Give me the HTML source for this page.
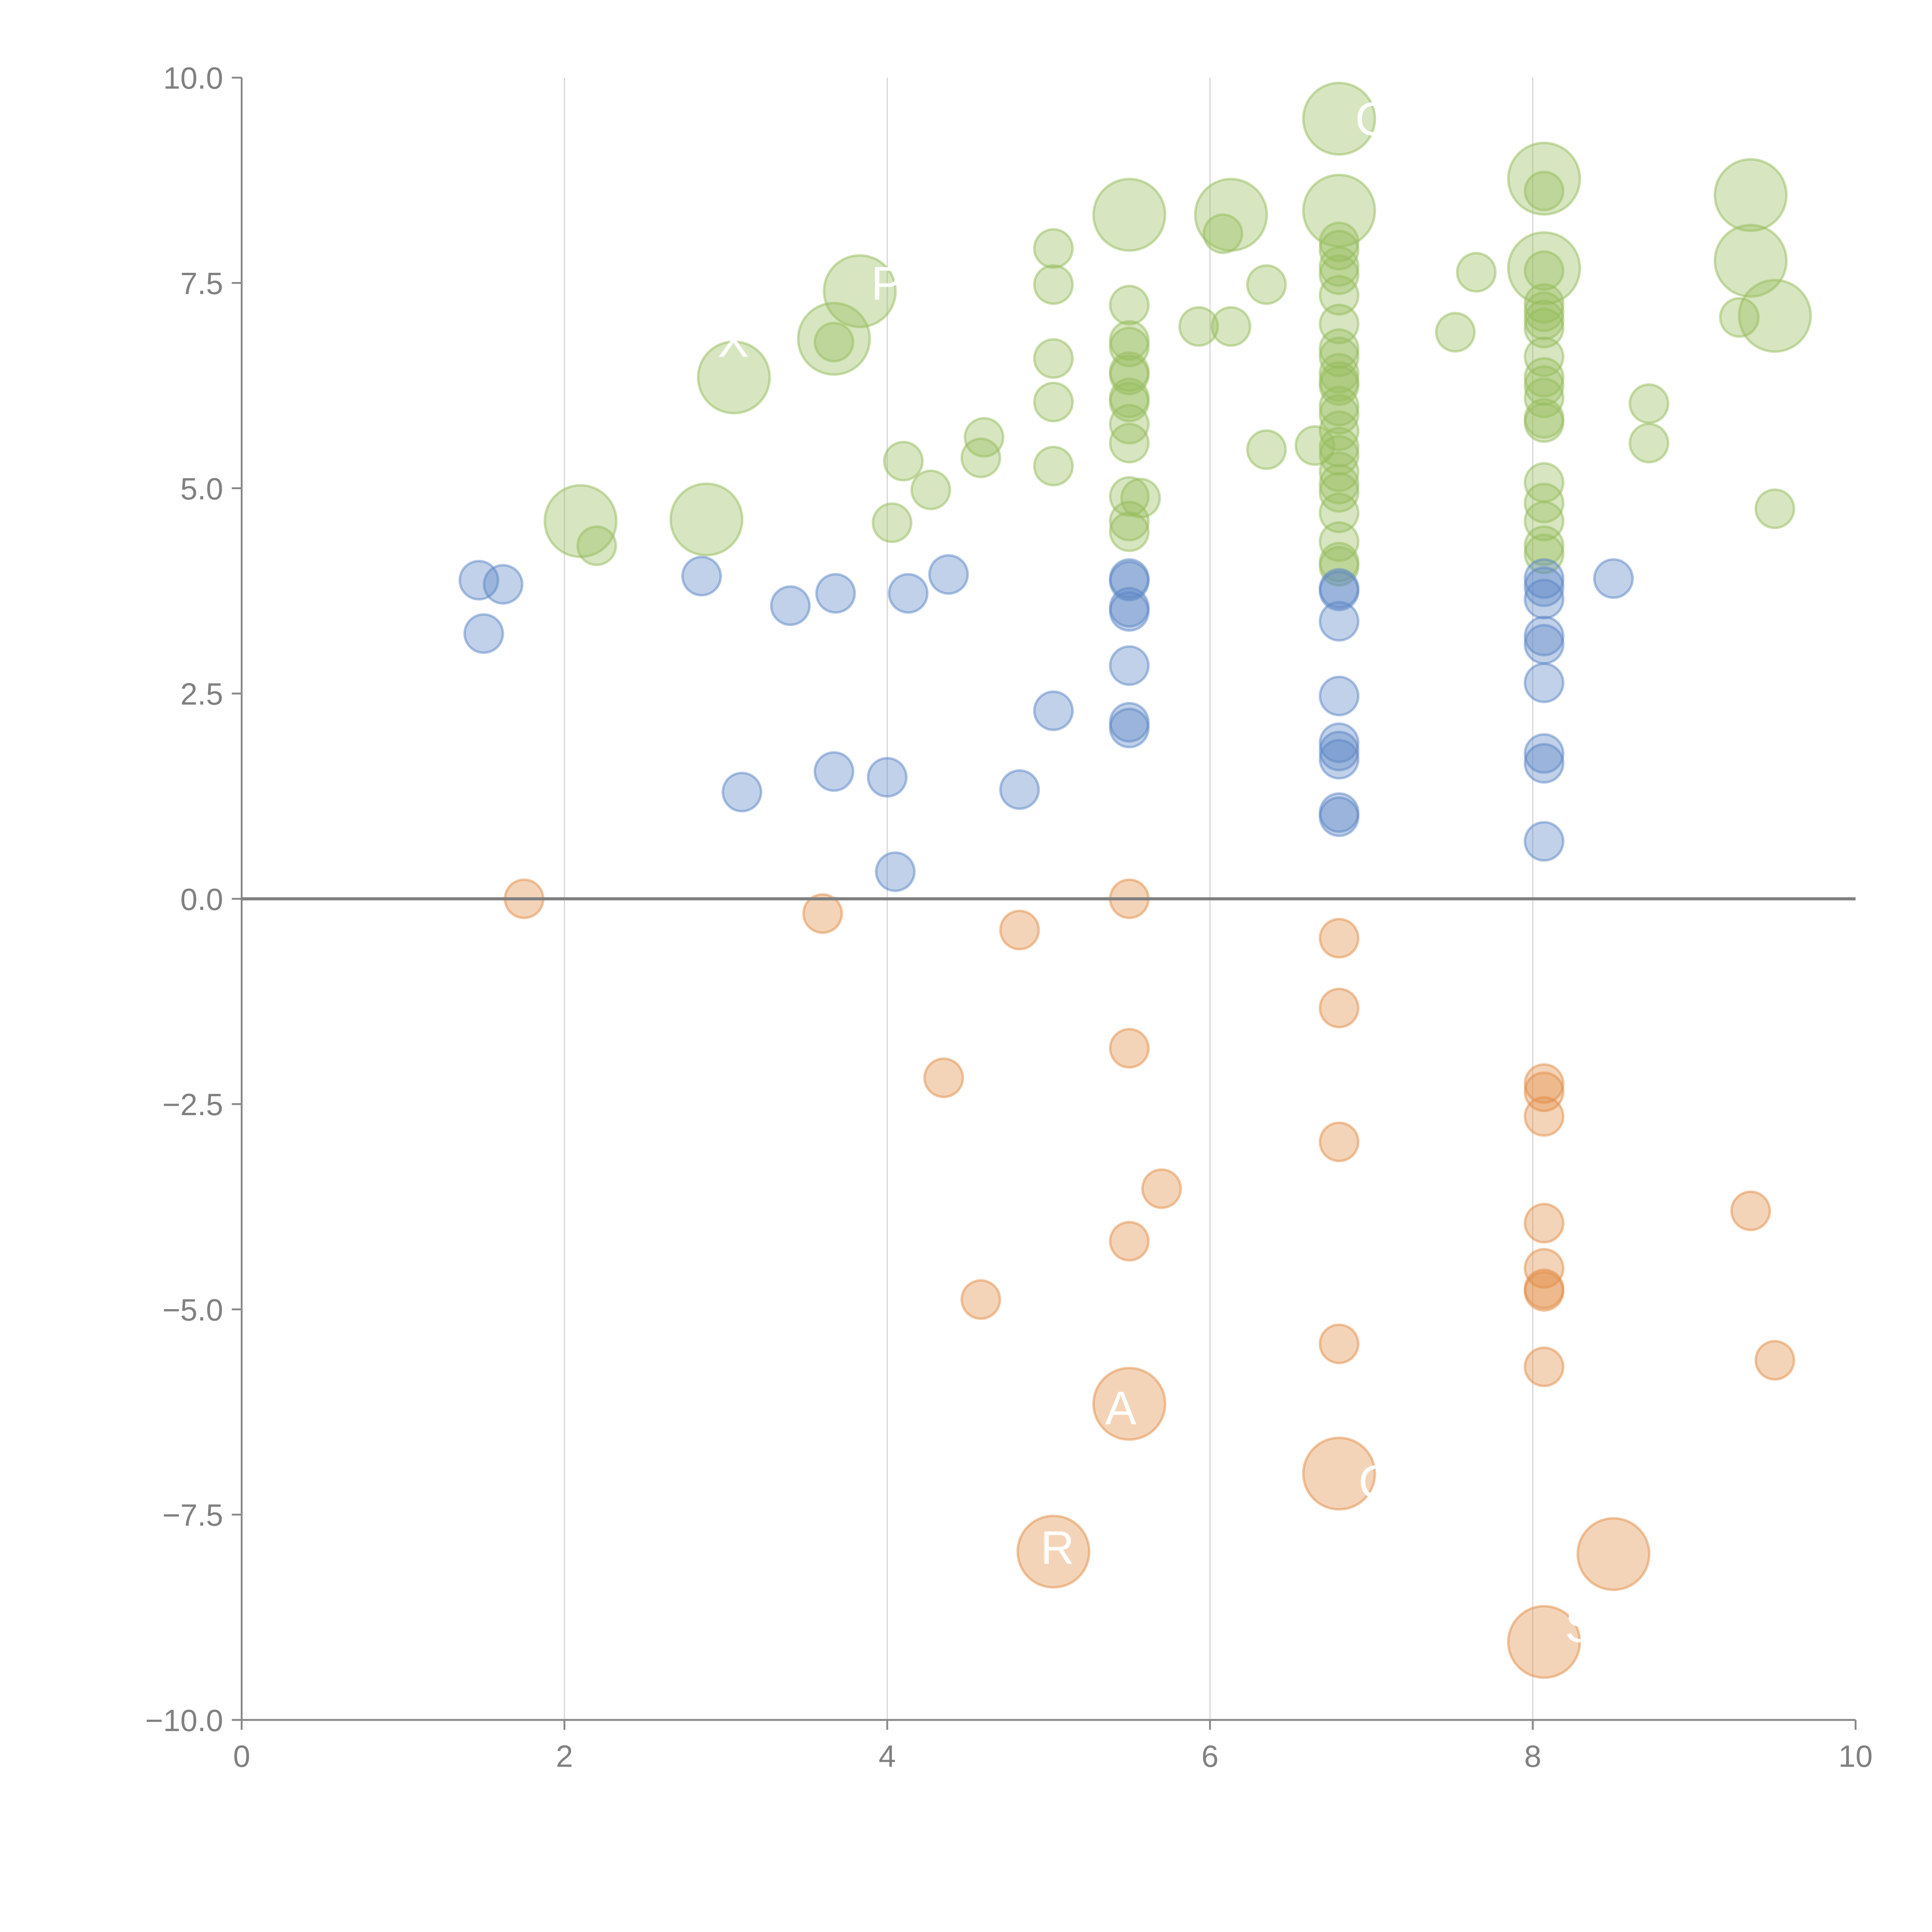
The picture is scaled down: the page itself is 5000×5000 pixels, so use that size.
<!DOCTYPE html>
<html><head><meta charset="utf-8"><style>
html,body{margin:0;padding:0;background:#fff;}
svg{display:block;}
text{font-family:"Liberation Sans",sans-serif;}
</style></head><body>
<svg id="chart" width="5000" height="5000" viewBox="0 0 1567 1567" xmlns="http://www.w3.org/2000/svg">
<g id="grid"></g>
<g id="marks"></g>
<g id="labels"></g>
<g id="axes"></g>
</svg>
<script>
const xTicks=[0,2,4,6,8,10];
const yTicks=[10,7.5,5,2.5,0,-2.5,-5,-7.5,-10];
const yTickLabels=["10.0","7.5","5.0","2.5","0.0","\u22122.5","\u22125.0","\u22127.5","\u221210.0"];
const blueX=[1.47,1.62,1.5,2.85,3.4,3.68,4.13,4.38,3.1,3.67,4.0,4.82,4.05,5.03,5.5,5.5,5.5,5.5,5.5,5.5,5.5,6.8,6.8,6.8,6.8,6.8,6.8,6.8,6.8,6.8,8.07,8.07,8.07,8.07,8.07,8.07,8.07,8.07,8.07,8.5];
const blueY=[3.88,3.83,3.23,3.93,3.57,3.72,3.72,3.95,1.3,1.55,1.48,1.33,0.33,2.29,3.9,3.87,3.55,3.5,2.84,2.15,2.08,3.78,3.75,3.38,2.47,1.9,1.8,1.7,1.05,1.0,3.9,3.8,3.65,3.2,3.1,2.63,1.77,1.65,0.7,3.9];
const orangeX=[1.75,3.6,4.82,5.5,4.35,5.5,6.8,6.8,6.8,5.7,5.5,4.58,6.8,8.07,8.07,8.07,8.07,8.07,8.07,8.07,8.07,9.35,9.5];
const orangeY=[0,-0.18,-0.38,0,-2.18,-1.82,-0.48,-1.33,-2.96,-3.53,-4.17,-4.88,-5.42,-2.25,-2.35,-2.65,-3.95,-4.5,-4.75,-4.78,-5.7,-3.8,-5.62];
const orangeBigX=[5.5,6.8,5.03,8.5,8.07];
const orangeBigY=[-6.15,-7.0,-7.95,-7.98,-9.05];
const greenX=[2.2,3.67,4.03,4.1,4.27,4.58,4.6,5.03,5.03,5.03,5.03,5.03,5.5,5.5,5.5,5.5,5.5,5.5,5.5,5.5,5.5,5.5,5.57,5.5,5.5,5.93,6.08,6.13,6.35,6.35,6.65,
6.8,6.8,6.8,6.8,6.8,6.8,6.8,6.8,6.8,6.8,6.8,6.8,6.8,6.8,6.8,6.8,6.8,6.8,6.8,6.8,6.8,6.8,6.8,7.52,7.65,
8.07,8.07,8.07,8.07,8.07,8.07,8.07,8.07,8.07,8.07,8.07,8.07,8.07,8.07,8.07,8.07,8.07,8.72,8.72,9.28,9.5];
const greenY=[4.3,6.78,4.58,5.33,4.98,5.37,5.62,7.92,7.48,6.58,6.05,5.27,7.23,6.8,6.72,6.42,6.38,6.1,6.05,5.78,5.55,4.9,4.88,4.6,4.47,6.97,8.1,6.97,7.48,5.47,5.52,
8.0,7.9,7.7,7.6,7.35,7.0,6.7,6.6,6.4,6.3,6.25,6.0,5.9,5.7,5.5,5.4,5.2,5.05,4.95,4.7,4.35,4.1,4.05,6.9,7.63,
8.62,7.65,7.25,7.15,7.05,6.95,6.6,6.35,6.25,6.1,5.85,5.8,5.07,4.82,4.6,4.3,4.2,6.03,5.55,7.08,4.75];
const greenBigX=[2.1,2.88,3.05,3.67,3.83,5.5,6.13,6.8,6.8,8.07,8.07,9.35,9.35,9.5];
const greenBigY=[4.6,4.62,6.35,6.82,7.4,8.33,8.33,9.5,8.38,8.77,7.68,8.57,7.77,7.1];
const textLabels=["OX","S","C","R","A","P","X","A"];
const textX=[6.9,8.2,6.92,4.95,5.35,3.9,2.95,8.6];
const textY=[9.3,-9.05,-7.3,-8.1,-6.4,7.3,6.6,-7.5];

const NS="http://www.w3.org/2000/svg";
const X0=196,X1=1505,Y0=1395,Y1=63;
function sx(v){return X0+(v-0)/(10-0)*(X1-X0);}
function sy(v){return Y0-(v+10)/20*(Y0-Y1);}
function mk(tag,attrs,parent){const e=document.createElementNS(NS,tag);for(const k in attrs)e.setAttribute(k,attrs[k]);parent.appendChild(e);return e;}
const grid=document.getElementById('grid'),marks=document.getElementById('marks'),labels=document.getElementById('labels'),axes=document.getElementById('axes');
xTicks.forEach(t=>{if(t>0&&t<10){const l=mk('line',{x1:sx(t),x2:sx(t),y1:sy(10),y2:sy(-10),stroke:'#cfcfcf','stroke-width':0.8},grid);

}});
function bubbles(xs,ys,r,col,name){xs.forEach((x,i)=>{const c=mk('circle',{cx:sx(x),cy:sy(ys[i]),r:r,fill:col,'fill-opacity':0.38,stroke:col,'stroke-opacity':0.5,'stroke-width':2},marks);

});}
bubbles(greenX,greenY,15.5,'rgb(150,188,92)','green-bubble');
bubbles(greenBigX,greenBigY,29,'rgb(150,188,92)','green-large-bubble');
bubbles(blueX,blueY,15.5,'rgb(92,133,198)','blue-bubble');
bubbles(orangeX,orangeY,15.5,'rgb(226,142,72)','orange-bubble');
bubbles(orangeBigX,orangeBigY,29,'rgb(226,142,72)','orange-large-bubble');
textLabels.forEach((s,i)=>{const t=mk('text',{x:sx(textX[i]),y:sy(textY[i]),fill:'#fff','font-size':38},labels);t.textContent=s;

});
// axes
const ya=mk('line',{x1:X0,x2:X0,y1:Y1,y2:Y0,stroke:'#888','stroke-width':1.5},axes);


const xa=mk('line',{x1:X0,x2:X1,y1:Y0,y2:Y0,stroke:'#888','stroke-width':1.5},axes);


const zl=mk('line',{x1:X0,x2:X1,y1:sy(0),y2:sy(0),stroke:'#808080','stroke-width':2.5},axes);


xTicks.forEach(t=>{mk('line',{x1:sx(t),x2:sx(t),y1:Y0,y2:Y0+8,stroke:'#888','stroke-width':1.5},axes);
const tx=mk('text',{x:sx(t),y:Y0+38,'text-anchor':'middle',fill:'#808080','font-size':25},axes);tx.textContent=t;

});
yTicks.forEach((t,i)=>{mk('line',{x1:X0-8,x2:X0,y1:sy(t),y2:sy(t),stroke:'#888','stroke-width':1.5},axes);
const tx=mk('text',{x:X0-15,y:sy(t)+9,'text-anchor':'end',fill:'#808080','font-size':25},axes);tx.textContent=yTickLabels[i];

});
</script>
</body></html>
